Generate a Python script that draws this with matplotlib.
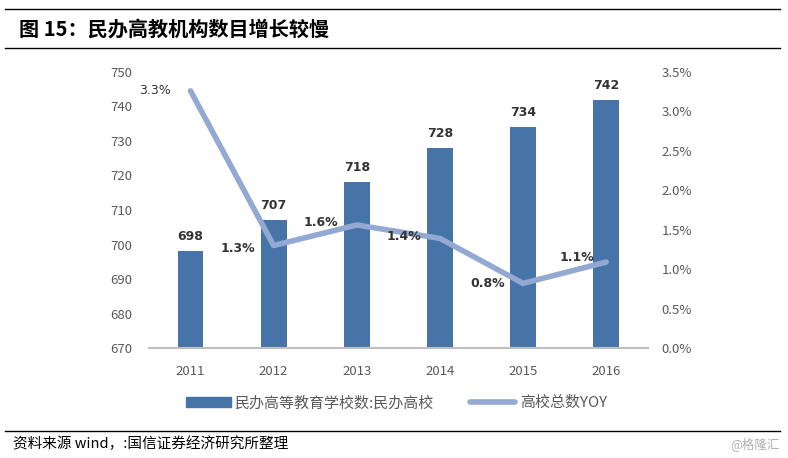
import matplotlib.pyplot as plt
import matplotlib.lines as mlines
import numpy as np

plt.rcParams['font.family'] = ['Noto Sans CJK SC', 'DejaVu Sans']

years = ['2011', '2012', '2013', '2014', '2015', '2016']
schools = [698, 707, 718, 728, 734, 742]
yoy = [3.26, 1.30, 1.56, 1.39, 0.82, 1.09]
yoy_labels = ['3.3%', '1.3%', '1.6%', '1.4%', '0.8%', '1.1%']

bar_color = '#4673A8'
line_color = '#93A9D1'
tick_color = '#595959'

fig = plt.figure(figsize=(7.88, 4.58), dpi=100)
ax = fig.add_axes([0.189, 0.240, 0.633, 0.603])
ax2 = ax.twinx()

x = np.arange(len(years))
ax.bar(x, schools, 0.31, color=bar_color, zorder=2)
ax.set_ylim(670, 750)
ax.set_yticks(np.arange(670, 751, 10))
ax.set_xlim(-0.5, len(years) - 0.5)
ax.set_xticks(x)
ax.set_xticklabels(years)
for xi, v in zip(x, schools):
    ax.text(xi, v + 2.3, str(v), ha='center', va='bottom', fontsize=9,
            fontweight='bold', color='#333333', family='DejaVu Sans')

ax2.plot(x, yoy, color=line_color, lw=4, solid_capstyle='round', zorder=3)
ax2.set_ylim(0, 3.5)
ax2.set_yticks(np.arange(0, 3.51, 0.5))
ax2.set_yticklabels(['%.1f%%' % t for t in np.arange(0, 3.51, 0.5)])
offsets = [(-0.43, 0.0), (-0.43, -0.04), (-0.43, 0.03), (-0.43, 0.03), (-0.43, 0.0), (-0.35, 0.06)]
for i, (xi, v, lab, (dx, dy)) in enumerate(zip(x, yoy, yoy_labels, offsets)):
    ax2.text(xi + dx, v + dy, lab, ha='center', va='center', fontsize=9,
             fontweight='normal' if i == 0 else 'bold', color='#333333',
             family='DejaVu Sans')

for a in (ax, ax2):
    for s in ('top', 'left', 'right'):
        a.spines[s].set_visible(False)
    a.tick_params(axis='both', length=0, labelsize=9.5, labelcolor=tick_color)
ax.spines['bottom'].set_color('#BFBFBF')
ax.spines['bottom'].set_linewidth(1.5)
ax2.spines['bottom'].set_visible(False)
ax.tick_params(axis='x', pad=12)
ax.tick_params(axis='y', pad=12)
ax2.tick_params(axis='y', pad=10)
ax.set_zorder(1)
ax2.set_zorder(2)

# legend
h1 = plt.Rectangle((0, 0), 1, 1, color=bar_color)
h2 = mlines.Line2D([], [], color=line_color, lw=4, solid_capstyle='round')
fig.legend([h1, h2], ['民办高等教育学校数:民办高校', '高校总数YOY'],
           loc='center', bbox_to_anchor=(0.503, 0.120), ncol=2, frameon=False,
           fontsize=10.8, handlelength=3.0, handletextpad=0.3, columnspacing=2.4,
           labelcolor=tick_color)

# title and source lines
fig.add_artist(mlines.Line2D([0.006, 0.99], [0.980, 0.980], color='black', lw=1))
fig.add_artist(mlines.Line2D([0.006, 0.99], [0.895, 0.895], color='black', lw=1))
fig.text(0.024, 0.937, '图 15：民办高教机构数目增长较慢', fontsize=14.5,
         fontweight='bold', va='center', ha='left')
fig.add_artist(mlines.Line2D([0.006, 0.99], [0.059, 0.059], color='black', lw=1))
fig.text(0.016, 0.032, '资料来源 wind，:国信证券经济研究所整理', fontsize=10.5,
         va='center', ha='left')
fig.text(0.99, 0.030, '@格隆汇', fontsize=9, color='#B0B0B0', va='center', ha='right')

plt.savefig('out.png', dpi=100)
